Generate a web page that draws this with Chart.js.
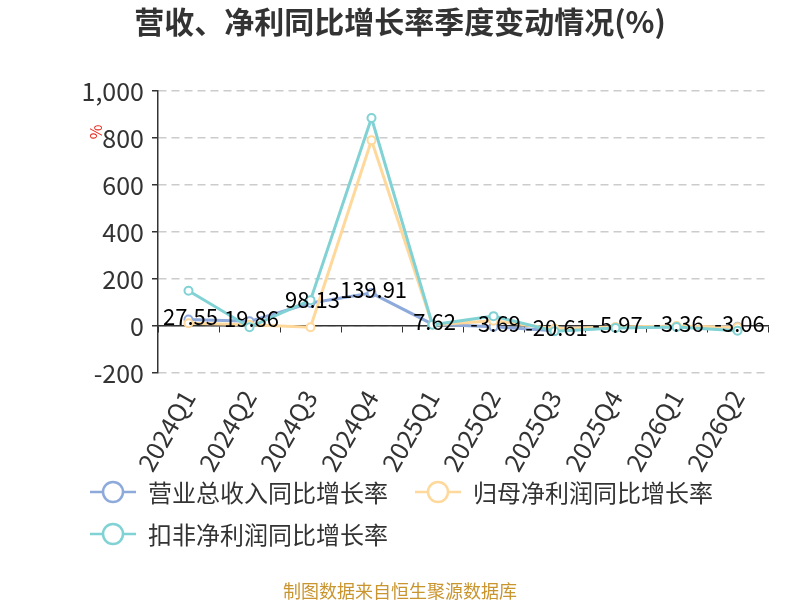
<!DOCTYPE html>
<html>
<head>
<meta charset="utf-8">
<script src="https://cdn.jsdelivr.net/npm/chart.js@4/dist/chart.umd.min.js"></script>
<style>
  html, body { margin: 0; padding: 0; background: #fff; }
  #wrap { position: relative; width: 800px; height: 600px; font-family: "Noto Sans CJK SC", "Noto Sans", sans-serif; }
  #legend { position: absolute; left: 90px; top: 474px; width: 680px; }
  .item { position: absolute; display: flex; align-items: center; font-size: 24px; color: #333; white-space: nowrap; }
  .item svg { margin-right: 12px; }
  #source { position: absolute; left: 0; width: 800px; top: 577px; text-align: center; font-size: 18px; color: #c9952e; }
</style>
</head>
<body>
<div id="wrap">
  <canvas id="chart" width="800" height="600"></canvas>
  <div id="legend"></div>
  <div id="source">制图数据来自恒生聚源数据库</div>
</div>
<script>
const TITLE = '营收、净利同比增长率季度变动情况(%)';
const QUARTERS = ['2024Q1', '2024Q2', '2024Q3', '2024Q4', '2025Q1', '2025Q2', '2025Q3', '2025Q4', '2026Q1', '2026Q2'];
const REVENUE = [27.55, 19.86, 98.13, 139.91, 7.62, -3.69, -20.61, -5.97, -3.36, -3.06];
const NET_PROFIT = [12, 5, -5, 790, 5, 22, -12, -4, 0, -5];
const DEDUCTED = [150, -5, 110, 885, 5, 42, -22, -8, -4, -20];
const Y_TICKS = { min: -200, max: 1000, step: 200 };

const SERIES = [
  { label: '营业总收入同比增长率', data: REVENUE, color: '#8eaadb', order: 2 },
  { label: '归母净利润同比增长率', data: NET_PROFIT, color: '#ffd89b', order: 1 },
  { label: '扣非净利润同比增长率', data: DEDUCTED, color: '#80d2d4', order: 0 },
];

const FONT = '"Noto Sans CJK SC", "Noto Sans", sans-serif';

// title centred on the page, value labels on the revenue line, red % unit mark
const extras = {
  id: 'extras',
  afterDatasetsDraw(chart) {
    const ctx = chart.ctx;
    const meta = chart.getDatasetMeta(0);
    ctx.save();
    ctx.font = `22px ${FONT}`;
    ctx.fillStyle = '#000';
    ctx.textAlign = 'center';
    ctx.textBaseline = 'middle';
    meta.data.forEach((pt, i) => {
      ctx.fillText(REVENUE[i].toFixed(2), pt.x + 2, pt.y - 3);
    });
    ctx.restore();

    ctx.save();
    ctx.translate(96, 132);
    ctx.rotate(-Math.PI / 2);
    ctx.font = `16px ${FONT}`;
    ctx.fillStyle = '#e8291c';
    ctx.textAlign = 'center';
    ctx.textBaseline = 'middle';
    ctx.fillText('%', 0, 0);
    ctx.restore();

    ctx.save();
    ctx.font = `bold 30px ${FONT}`;
    ctx.fillStyle = '#333';
    ctx.textAlign = 'center';
    ctx.textBaseline = 'middle';
    ctx.fillText(TITLE, chart.width / 2, 22);
    ctx.restore();
  },
};

new Chart(document.getElementById('chart'), {
  type: 'line',
  data: {
    labels: QUARTERS,
    datasets: SERIES.map((s) => ({
      label: s.label,
      data: s.data,
      order: s.order,
      borderColor: s.color,
      backgroundColor: '#fff',
      pointBackgroundColor: '#fff',
      pointBorderColor: s.color,
      pointBorderWidth: 2,
      pointRadius: 4,
      borderWidth: 3,
      tension: 0,
    })),
  },
  options: {
    responsive: false,
    animation: false,
    devicePixelRatio: 1,
    layout: { padding: { top: 91, left: 0, right: 32, bottom: 127 } },
    plugins: {
      legend: { display: false },
      tooltip: { enabled: false },
      title: { display: false },
    },
    scales: {
      x: {
        type: 'category',
        position: { y: 0 },
        offset: true,
        grid: { offset: true, drawOnChartArea: false, drawTicks: true, tickLength: 6, tickColor: '#333', color: '#333' },
        ticks: { display: false },
        border: { color: '#333', width: 1.5 },
      },
      x2: {
        type: 'category',
        position: 'bottom',
        labels: QUARTERS,
        offset: true,
        grid: { display: false },
        border: { display: false },
        ticks: { minRotation: 60, maxRotation: 60, padding: 4, color: '#333', font: { family: FONT, size: 25 } },
        afterFit(scale) { scale.height = 100; },
      },
      y: {
        min: Y_TICKS.min,
        max: Y_TICKS.max,
        ticks: { stepSize: Y_TICKS.step, color: '#333', padding: 8, font: { family: FONT, size: 25 } },
        grid: { color: '#cccccc', lineWidth: 1.5, tickLength: 6, tickColor: '#333', tickWidth: 1.5 },
        border: { display: true, color: '#333', width: 1.5, dash: [8, 5] },
        afterFit(scale) { scale.width = 158; },
      },
    },
  },
  plugins: [extras],
});

// legend in the echarts style: line with a hollow circle
const legend = document.getElementById('legend');
const spots = [[0, 0], [325, 0], [0, 42]];
SERIES.forEach((s, i) => {
  const el = document.createElement('div');
  el.className = 'item';
  el.style.left = spots[i][0] + 'px';
  el.style.top = spots[i][1] + 'px';
  el.innerHTML = `<svg width="46" height="24"><line x1="0" y1="12" x2="46" y2="12" stroke="${s.color}" stroke-width="2.5"/>` +
    `<circle cx="23" cy="12" r="10" fill="#fff" stroke="${s.color}" stroke-width="2.5"/></svg><span>${s.label}</span>`;
  legend.appendChild(el);
});
</script>
</body>
</html>
